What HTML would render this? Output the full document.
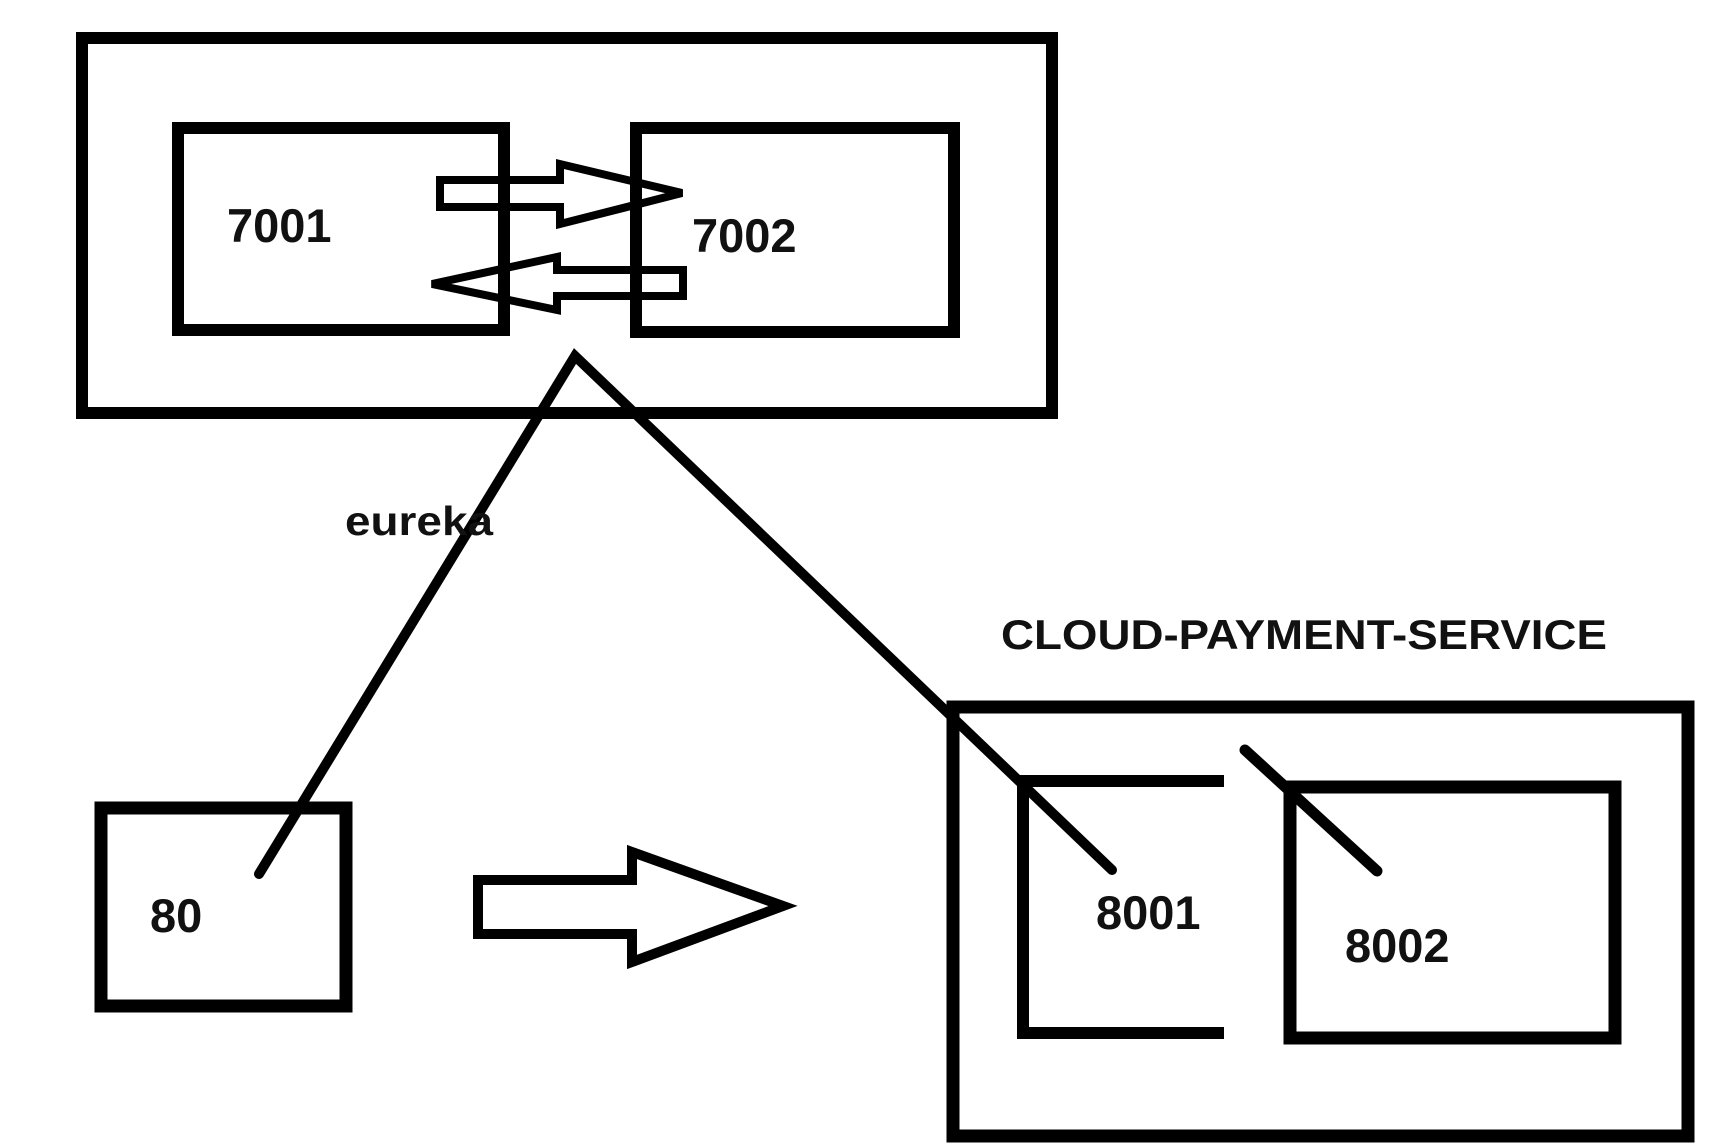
<!DOCTYPE html>
<html><head><meta charset="utf-8"><style>
html,body{margin:0;padding:0;background:#fff;}
svg{display:block;}
text{font-family:"Liberation Sans",sans-serif;font-weight:bold;fill:#111;}
</style></head><body>
<svg width="1718" height="1148" viewBox="0 0 1718 1148" xmlns="http://www.w3.org/2000/svg">
<g fill="none" stroke="#000" stroke-linecap="butt">
  <rect x="82" y="38" width="970" height="375" stroke-width="12"/>
  <rect x="178" y="128" width="326" height="202" stroke-width="12"/>
  <rect x="636" y="128" width="318" height="204" stroke-width="12"/>
  <polygon points="440,180 560,180 560,164 682,193 560,224 560,207 440,207" stroke-width="8"/>
  <polygon points="683,270 557,270 557,257 432,284 557,310 557,296 683,296" stroke-width="8"/>
  <polyline points="259,874 575,356 1112,870" stroke-width="10" stroke-linecap="round" stroke-linejoin="miter"/>
  <line x1="1245" y1="750" x2="1377" y2="871" stroke-width="11" stroke-linecap="round"/>
  <rect x="101" y="808" width="245" height="198" stroke-width="13"/>
  <polygon points="478,880 632,880 632,852 783,906 632,962 632,934 478,934" stroke-width="10"/>
  <rect x="953" y="707" width="735" height="429" stroke-width="13"/>
  <polyline points="1224,781 1023,781 1023,1033 1224,1033" stroke-width="12"/>
  <rect x="1290" y="787" width="325" height="251" stroke-width="13"/>
</g>
<text x="227" y="242" font-size="47">7001</text>
<text x="692" y="252" font-size="47">7002</text>
<text x="345" y="535" font-size="41" textLength="148" lengthAdjust="spacingAndGlyphs">eureka</text>
<text x="1001" y="649" font-size="42" textLength="606" lengthAdjust="spacingAndGlyphs">CLOUD-PAYMENT-SERVICE</text>
<text x="150" y="932" font-size="47">80</text>
<text x="1096" y="929" font-size="47">8001</text>
<text x="1345" y="962" font-size="47">8002</text>
</svg>
</body></html>
